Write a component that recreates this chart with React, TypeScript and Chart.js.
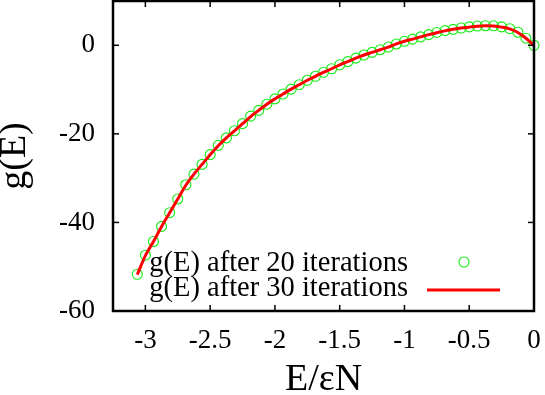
import { useEffect, useRef } from "react";
import { Chart, registerables } from "chart.js";

Chart.register(...registerables);

// Energy per site E/εN
const energies = [
  -3.0625, -3.0, -2.9375, -2.875, -2.8125, -2.75, -2.6875, -2.625, -2.5625, -2.5,
  -2.4375, -2.375, -2.3125, -2.25, -2.1875, -2.125, -2.0625, -2.0, -1.9375, -1.875,
  -1.8125, -1.75, -1.6875, -1.625, -1.5625, -1.5, -1.4375, -1.375, -1.3125, -1.25,
  -1.1875, -1.125, -1.0625, -1.0, -0.9375, -0.875, -0.8125, -0.75, -0.6875, -0.625,
  -0.5625, -0.5, -0.4375, -0.375, -0.3125, -0.25, -0.1875, -0.125, -0.0625, 0,
];

// g(E) after 20 iterations (circles)
const g20 = [
  -51.7, -47.4, -44.3, -40.9, -37.8, -34.7, -31.5, -29.1, -26.9, -24.7,
  -22.6, -20.9, -19.3, -17.7, -16.0, -14.7, -13.3, -12.1, -11.0, -9.9,
  -8.9, -7.9, -7.0, -6.1, -5.3, -4.4, -3.7, -2.9, -2.2, -1.6,
  -1.0, -0.4, 0.3, 0.9, 1.4, 1.9, 2.4, 2.9, 3.3, 3.6,
  3.9, 4.15, 4.35, 4.42, 4.4, 4.15, 3.75, 2.95, 1.6, 0,
];

// g(E) after 30 iterations (red line)
const g30 = [
  -51.8, -47.5, -44.3, -40.9, -37.8, -34.7, -31.6, -29.1, -26.9, -24.7,
  -22.7, -20.9, -19.3, -17.7, -16.1, -14.7, -13.3, -12.1, -11.0, -9.9,
  -8.9, -7.9, -7.0, -6.1, -5.3, -4.4, -3.7, -2.9, -2.2, -1.6,
  -1.0, -0.4, 0.3, 0.9, 1.4, 1.9, 2.4, 2.85, 3.25, 3.6,
  3.9, 4.1, 4.3, 4.4, 4.35, 4.1, 3.7, 2.9, 1.6, 0,
];

const xTicks = [-3, -2.5, -2, -1.5, -1, -0.5, 0];
const yTicks = [0, -20, -40, -60];
const legendLabels = ["g(E) after 20 iterations", "g(E) after 30 iterations"];
const xTitle = "E/εN";
const yTitle = "g(E)";

const FONT = "'Liberation Serif', 'Times New Roman', serif";
const CIRCLE_COLOR = "#11ee11";
const LINE_COLOR = "#ff0000";

const framePlugin = {
  id: "frame",
  afterDatasetsDraw(chart: any) {
    const { ctx, chartArea: a, scales } = chart;
    ctx.save();
    ctx.strokeStyle = "#000";
    ctx.lineWidth = 1.5;
    const seg = (x1: number, y1: number, x2: number, y2: number) => {
      ctx.beginPath();
      ctx.moveTo(x1, y1);
      ctx.lineTo(x2, y2);
      ctx.stroke();
    };
    const tl = 6;
    for (const v of xTicks) {
      const px = scales.x.getPixelForValue(v);
      seg(px, a.bottom, px, a.bottom - tl);
      seg(px, a.top, px, a.top + tl);
    }
    for (const v of yTicks) {
      const py = scales.y.getPixelForValue(v);
      seg(a.left, py, a.left + tl, py);
      seg(a.right, py, a.right - tl, py);
    }
    ctx.lineWidth = 2.5;
    ctx.strokeRect(a.left, a.top, a.right - a.left, a.bottom - a.top);

    // legend
    ctx.font = `28.5px ${FONT}`;
    ctx.fillStyle = "#000";
    ctx.textAlign = "right";
    ctx.textBaseline = "alphabetic";
    const textRight = a.right - 126;
    const row1 = a.bottom - 40;
    const row2 = a.bottom - 15;
    ctx.fillText(legendLabels[0], textRight, row1);
    ctx.fillText(legendLabels[1], textRight, row2);
    ctx.strokeStyle = CIRCLE_COLOR;
    ctx.lineWidth = 1.1;
    ctx.beginPath();
    ctx.arc(a.right - 70, row1 - 9, 5, 0, Math.PI * 2);
    ctx.stroke();
    ctx.strokeStyle = LINE_COLOR;
    ctx.lineWidth = 3;
    seg(a.right - 107, row2 - 6, a.right - 34, row2 - 6);
    ctx.restore();
  },
};

export default function App() {
  const ref = useRef<HTMLCanvasElement | null>(null);

  useEffect(() => {
    if (!ref.current) return;
    const circles = energies.map((e, i) => ({ x: e, y: g20[i] }));
    const line = energies.map((e, i) => ({ x: e, y: g30[i] }));
    const zeroPad = (s: any) => {
      s.paddingTop = 0;
      s.paddingBottom = 0;
      s.paddingLeft = 0;
      s.paddingRight = 0;
    };
    const chart = new Chart(ref.current, {
      type: "scatter",
      data: {
        datasets: [
          {
            label: legendLabels[1],
            data: line,
            showLine: true,
            borderColor: LINE_COLOR,
            borderWidth: 3,
            pointRadius: 0,
            tension: 0.4,
            cubicInterpolationMode: "monotone",
            order: 0,
            clip: false,
          },
          {
            label: legendLabels[0],
            data: circles,
            showLine: false,
            pointStyle: "circle",
            pointRadius: 5,
            pointBorderWidth: 1.1,
            pointBorderColor: CIRCLE_COLOR,
            pointBackgroundColor: "rgba(0,0,0,0)",
            borderColor: CIRCLE_COLOR,
            backgroundColor: "rgba(0,0,0,0)",
            order: 1,
            clip: false,
          },
        ],
      },
      options: {
        animation: false,
        responsive: false,
        devicePixelRatio: 1,
        layout: { autoPadding: false, padding: { top: 1, right: 11, left: 0, bottom: 0 } },
        plugins: {
          legend: { display: false },
          tooltip: { enabled: false },
        },
        scales: {
          x: {
            type: "linear",
            min: -3.25,
            max: 0,
            afterBuildTicks: (s: any) => {
              s.ticks = xTicks.map((v) => ({ value: v }));
            },
            afterFit: (s: any) => {
              s.height = 84;
              zeroPad(s);
            },
            grid: { display: false, drawTicks: false },
            border: { display: false },
            ticks: {
              color: "#000",
              font: { family: FONT, size: 27 },
              padding: 14,
              maxRotation: 0,
              autoSkip: false,
              callback: (v: any) => String(v),
            },
            title: {
              display: true,
              text: xTitle,
              color: "#000",
              font: { family: FONT, size: 38, lineHeight: 0.8 },
              padding: 0,
            },
          },
          y: {
            type: "linear",
            min: -60,
            max: 10,
            afterBuildTicks: (s: any) => {
              s.ticks = yTicks.map((v) => ({ value: v }));
            },
            afterFit: (s: any) => {
              s.width = 113;
              zeroPad(s);
            },
            grid: { display: false, drawTicks: false },
            border: { display: false },
            ticks: {
              color: "#000",
              font: { family: FONT, size: 27 },
              padding: 18,
              autoSkip: false,
              callback: (v: any) => String(v),
            },
            title: {
              display: true,
              text: yTitle,
              color: "#000",
              font: { family: FONT, size: 38, lineHeight: 0.8 },
              padding: 0,
            },
          },
        },
      },
      plugins: [framePlugin],
    });
    return () => chart.destroy();
  }, []);

  return (
    <div style={{ position: "fixed", left: 0, top: 0, width: 545, height: 395, background: "#fff" }}>
      <canvas ref={ref} width={545} height={395} style={{ width: 545, height: 395, display: "block" }} />
    </div>
  );
}
